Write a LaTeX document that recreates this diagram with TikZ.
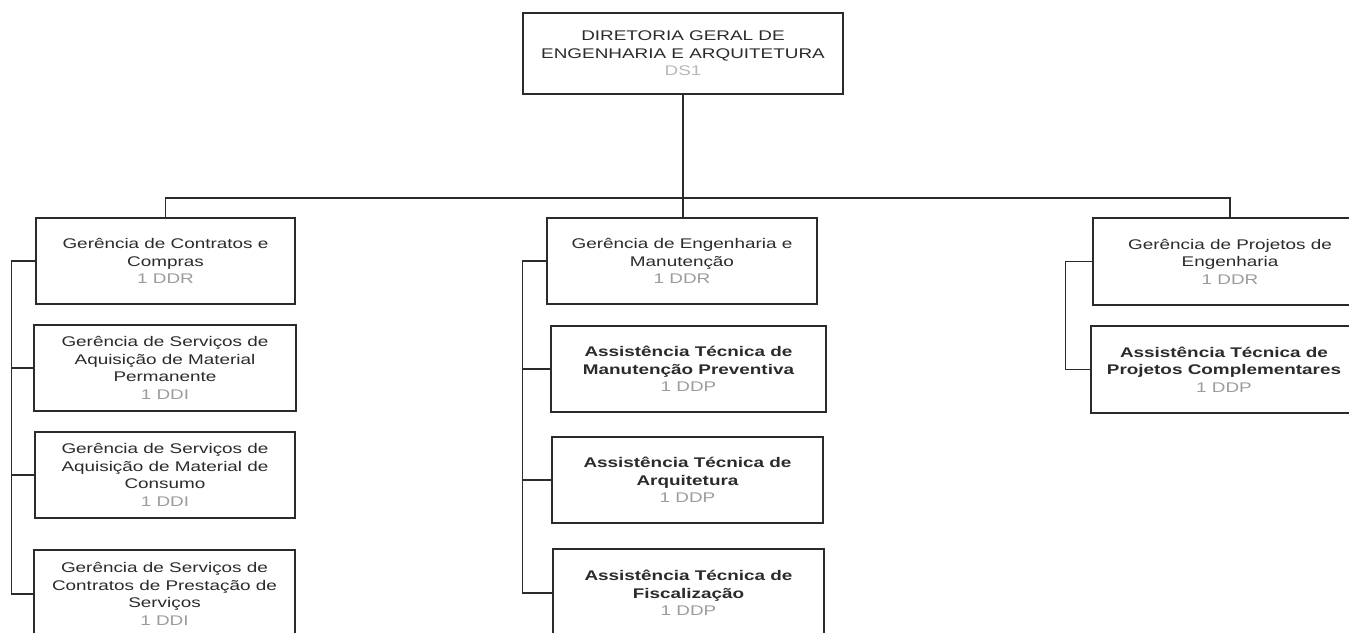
\documentclass[tikz,border=0pt]{standalone}
\usepackage{fontspec}
\setmainfont{Liberation Sans}[FakeStretch=1.35]
\usetikzlibrary{calc}
\definecolor{ink}{HTML}{2B2B2B}
\definecolor{codegray}{HTML}{9C9C9C}
\definecolor{lightcode}{HTML}{B8B8B8}
\begin{document}
\begin{tikzpicture}[x=1pt,y=-1pt,
  box/.style={draw=ink, line width=1.4pt, inner sep=0pt, align=center, text=ink,
              font=\fontsize{14}{17.5}\selectfont},
  boldbox/.style={box, font=\fontsize{14}{17.5}\selectfont\bfseries},
  topbox/.style={box, line width=2.6pt},
  link/.style={draw=ink, line width=1.1pt}]
\useasboundingbox[fill=white] (0,0) rectangle (1349,632);
\clip (0,0) rectangle (1349,632);

% top
\node[topbox, minimum width=320pt, minimum height=81pt] (dg) at (683,53.5)
  {DIRETORIA GERAL DE\\ENGENHARIA E ARQUITETURA\\\textcolor{lightcode}{DS1}};

% left column
\node[box, minimum width=259pt, minimum height=86pt] (l1) at (165.5,261)
  {Gerência de Contratos e\\Compras\\\textcolor{codegray}{1 DDR}};
\node[box, minimum width=262pt, minimum height=86pt] (l2) at (165,368)
  {Gerência de Serviços de\\Aquisição de Material\\Permanente\\\textcolor{codegray}{1 DDI}};
\node[box, minimum width=260pt, minimum height=86pt] (l3) at (165,475)
  {Gerência de Serviços de\\Aquisição de Material de\\Consumo\\\textcolor{codegray}{1 DDI}};
\node[box, minimum width=261pt, minimum height=88pt] (l4) at (164.5,594)
  {Gerência de Serviços de\\Contratos de Prestação de\\Serviços\\\textcolor{codegray}{1 DDI}};

% middle column
\node[box, minimum width=270pt, minimum height=86pt] (m1) at (682,261)
  {Gerência de Engenharia e\\Manutenção\\\textcolor{codegray}{1 DDR}};
\node[boldbox, minimum width=275pt, minimum height=86pt] (m2) at (688.5,369)
  {Assistência Técnica de\\Manutenção Preventiva\\\textcolor{codegray}{\mdseries 1 DDP}};
\node[boldbox, minimum width=271pt, minimum height=86pt] (m3) at (687.5,480)
  {Assistência Técnica de\\Arquitetura\\\textcolor{codegray}{\mdseries 1 DDP}};
\node[boldbox, minimum width=271pt, minimum height=88pt] (m4) at (688.5,593)
  {Assistência Técnica de\\Fiscalização\\\textcolor{codegray}{\mdseries 1 DDP}};

% right column
\node[box, minimum width=274pt, minimum height=87pt] (r1) at (1230,261.5)
  {Gerência de Projetos de\\Engenharia\\\textcolor{codegray}{1 DDR}};
\node[boldbox, minimum width=266pt, minimum height=87pt] (r2) at (1224,369.5)
  {Assistência Técnica de\\Projetos Complementares\\\textcolor{codegray}{\mdseries 1 DDP}};

% connectors
\coordinate (bus) at (683,198);
\draw[link] (dg.south) -- (dg.south |- m1.north);
\draw[link] (l1.north) -- (l1.north |- bus) -- (r1.north |- bus) -- (r1.north);

\draw[link] (l1.west) -- ++(-24,0) coordinate (ls) -- (ls |- l4.west) -- (l4.west);
\foreach \n in {l2,l3} \draw[link] (\n.west) -- (\n.west -| ls);

\draw[link] (m1.west) -- ++(-24,0) coordinate (ms) -- (ms |- m4.west) -- (m4.west);
\foreach \n in {m2,m3} \draw[link] (\n.west) -- (\n.west -| ms);

\draw[link] (r1.west) -- ++(-27,0) coordinate (rs) -- (rs |- r2.west) -- (r2.west);
\end{tikzpicture}
\end{document}
